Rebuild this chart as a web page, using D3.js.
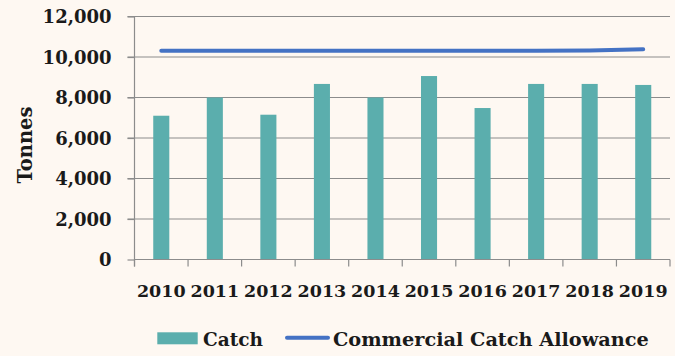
<!DOCTYPE html>
<html><head><meta charset="utf-8">
<script src="https://cdn.jsdelivr.net/npm/d3@7"></script>
<style>
html,body{margin:0;padding:0;background:#FEF8F2;}
svg{display:block;}
text{font-family:"DejaVu Serif",serif;font-weight:bold;fill:#1a1a1a;}
</style></head>
<body>
<svg id="c" width="675" height="356"></svg>
<script>
const years = ["2010","2011","2012","2013","2014","2015","2016","2017","2018","2019"];
const catchValues = [7100, 8000, 7150, 8670, 8000, 9060, 7480, 8670, 8670, 8620];
const allowanceValues = [10310, 10310, 10310, 10310, 10310, 10310, 10310, 10310, 10320, 10380];
const yTicks = [0, 2000, 4000, 6000, 8000, 10000, 12000];
const seriesNames = ["Catch", "Commercial Catch Allowance"];

(function(){
const svg = d3.select("#c");
const mLeft = 134.5, mRight = 670, mTop = 16.5, mBottom = 259.5;
const x = d3.scaleBand().domain(years).range([mLeft, mRight]).padding(0);
const y = d3.scaleLinear().domain([0, 12000]).range([mBottom, mTop]);
const grid = "#8c8c8c";

// gridlines
svg.append("g").selectAll("line").data(yTicks.filter(d => d > 0)).join("line")
  .attr("x1", mLeft - 7).attr("x2", mRight).attr("y1", d => y(d)).attr("y2", d => y(d))
  .attr("stroke", grid).attr("stroke-width", 1.2);

// bars
const bw = x.bandwidth() * 0.3;
svg.append("g").selectAll("rect").data(years).join("rect")
  .attr("x", (d) => x(d) + x.bandwidth() / 2 - bw / 2)
  .attr("width", bw)
  .attr("y", (d, i) => y(catchValues[i]))
  .attr("height", (d, i) => mBottom - y(catchValues[i]))
  .attr("fill", "#5BAEAD");

// y axis
const yAxis = d3.axisLeft(y).tickValues(yTicks).tickSize(7).tickPadding(16)
  .tickFormat(d3.format(","));
const ya = svg.append("g").attr("transform", `translate(${mLeft},0)`).call(yAxis);
ya.select(".domain").remove();
ya.append("line").attr("x1", 0).attr("x2", 0).attr("y1", mTop).attr("y2", mBottom + 7)
  .attr("stroke", grid).attr("stroke-width", 1.2);
ya.selectAll(".tick line").attr("stroke", grid).attr("stroke-width", 1.2);
ya.selectAll(".tick text").attr("font-size", 18).attr("font-family", "DejaVu Serif")
  .attr("font-weight", "bold").attr("fill", "#1a1a1a").attr("dy", "0.36em");

// x axis
const xAxis = d3.axisBottom(x).tickSize(0).tickPadding(25);
const xa = svg.append("g").attr("transform", `translate(0,${mBottom})`).call(xAxis);
xa.select(".domain").remove();
xa.append("line").attr("x1", mLeft).attr("x2", mRight).attr("y1", 0).attr("y2", 0)
  .attr("stroke", grid).attr("stroke-width", 1.2);
const bounds = years.map(d => x(d)).concat([mRight]);
xa.selectAll(".bt").data(bounds).join("line").attr("class", "bt")
  .attr("x1", d => d).attr("x2", d => d).attr("y1", 0).attr("y2", 7)
  .attr("stroke", grid).attr("stroke-width", 1.2);
xa.selectAll(".tick text").attr("font-size", 17.5).attr("font-family", "DejaVu Serif")
  .attr("font-weight", "bold").attr("fill", "#1a1a1a");

// allowance line
const line = d3.line().x((d, i) => x(years[i]) + x.bandwidth() / 2).y(d => y(d));
svg.append("path").datum(allowanceValues).attr("d", line)
  .attr("fill", "none").attr("stroke", "#4472C4").attr("stroke-width", 4)
  .attr("stroke-linecap", "round");

// y label
svg.append("text").attr("transform", "translate(31.5,145) rotate(-90)")
  .attr("text-anchor", "middle").attr("font-size", 19.5).text("Tonnes");

// legend
const lg = svg.append("g");
lg.append("rect").attr("x", 157.3).attr("y", 332.3).attr("width", 40.4).attr("height", 12).attr("fill", "#5BAEAD");
lg.append("text").attr("x", 203).attr("y", 346).attr("font-size", 18.5).text(seriesNames[0]);
lg.append("line").attr("x1", 287).attr("x2", 328).attr("y1", 337.7).attr("y2", 337.7)
  .attr("stroke", "#4472C4").attr("stroke-width", 4).attr("stroke-linecap", "round");
lg.append("text").attr("x", 333).attr("y", 346).attr("font-size", 19.3).text(seriesNames[1]);
})();
</script>
</body></html>
